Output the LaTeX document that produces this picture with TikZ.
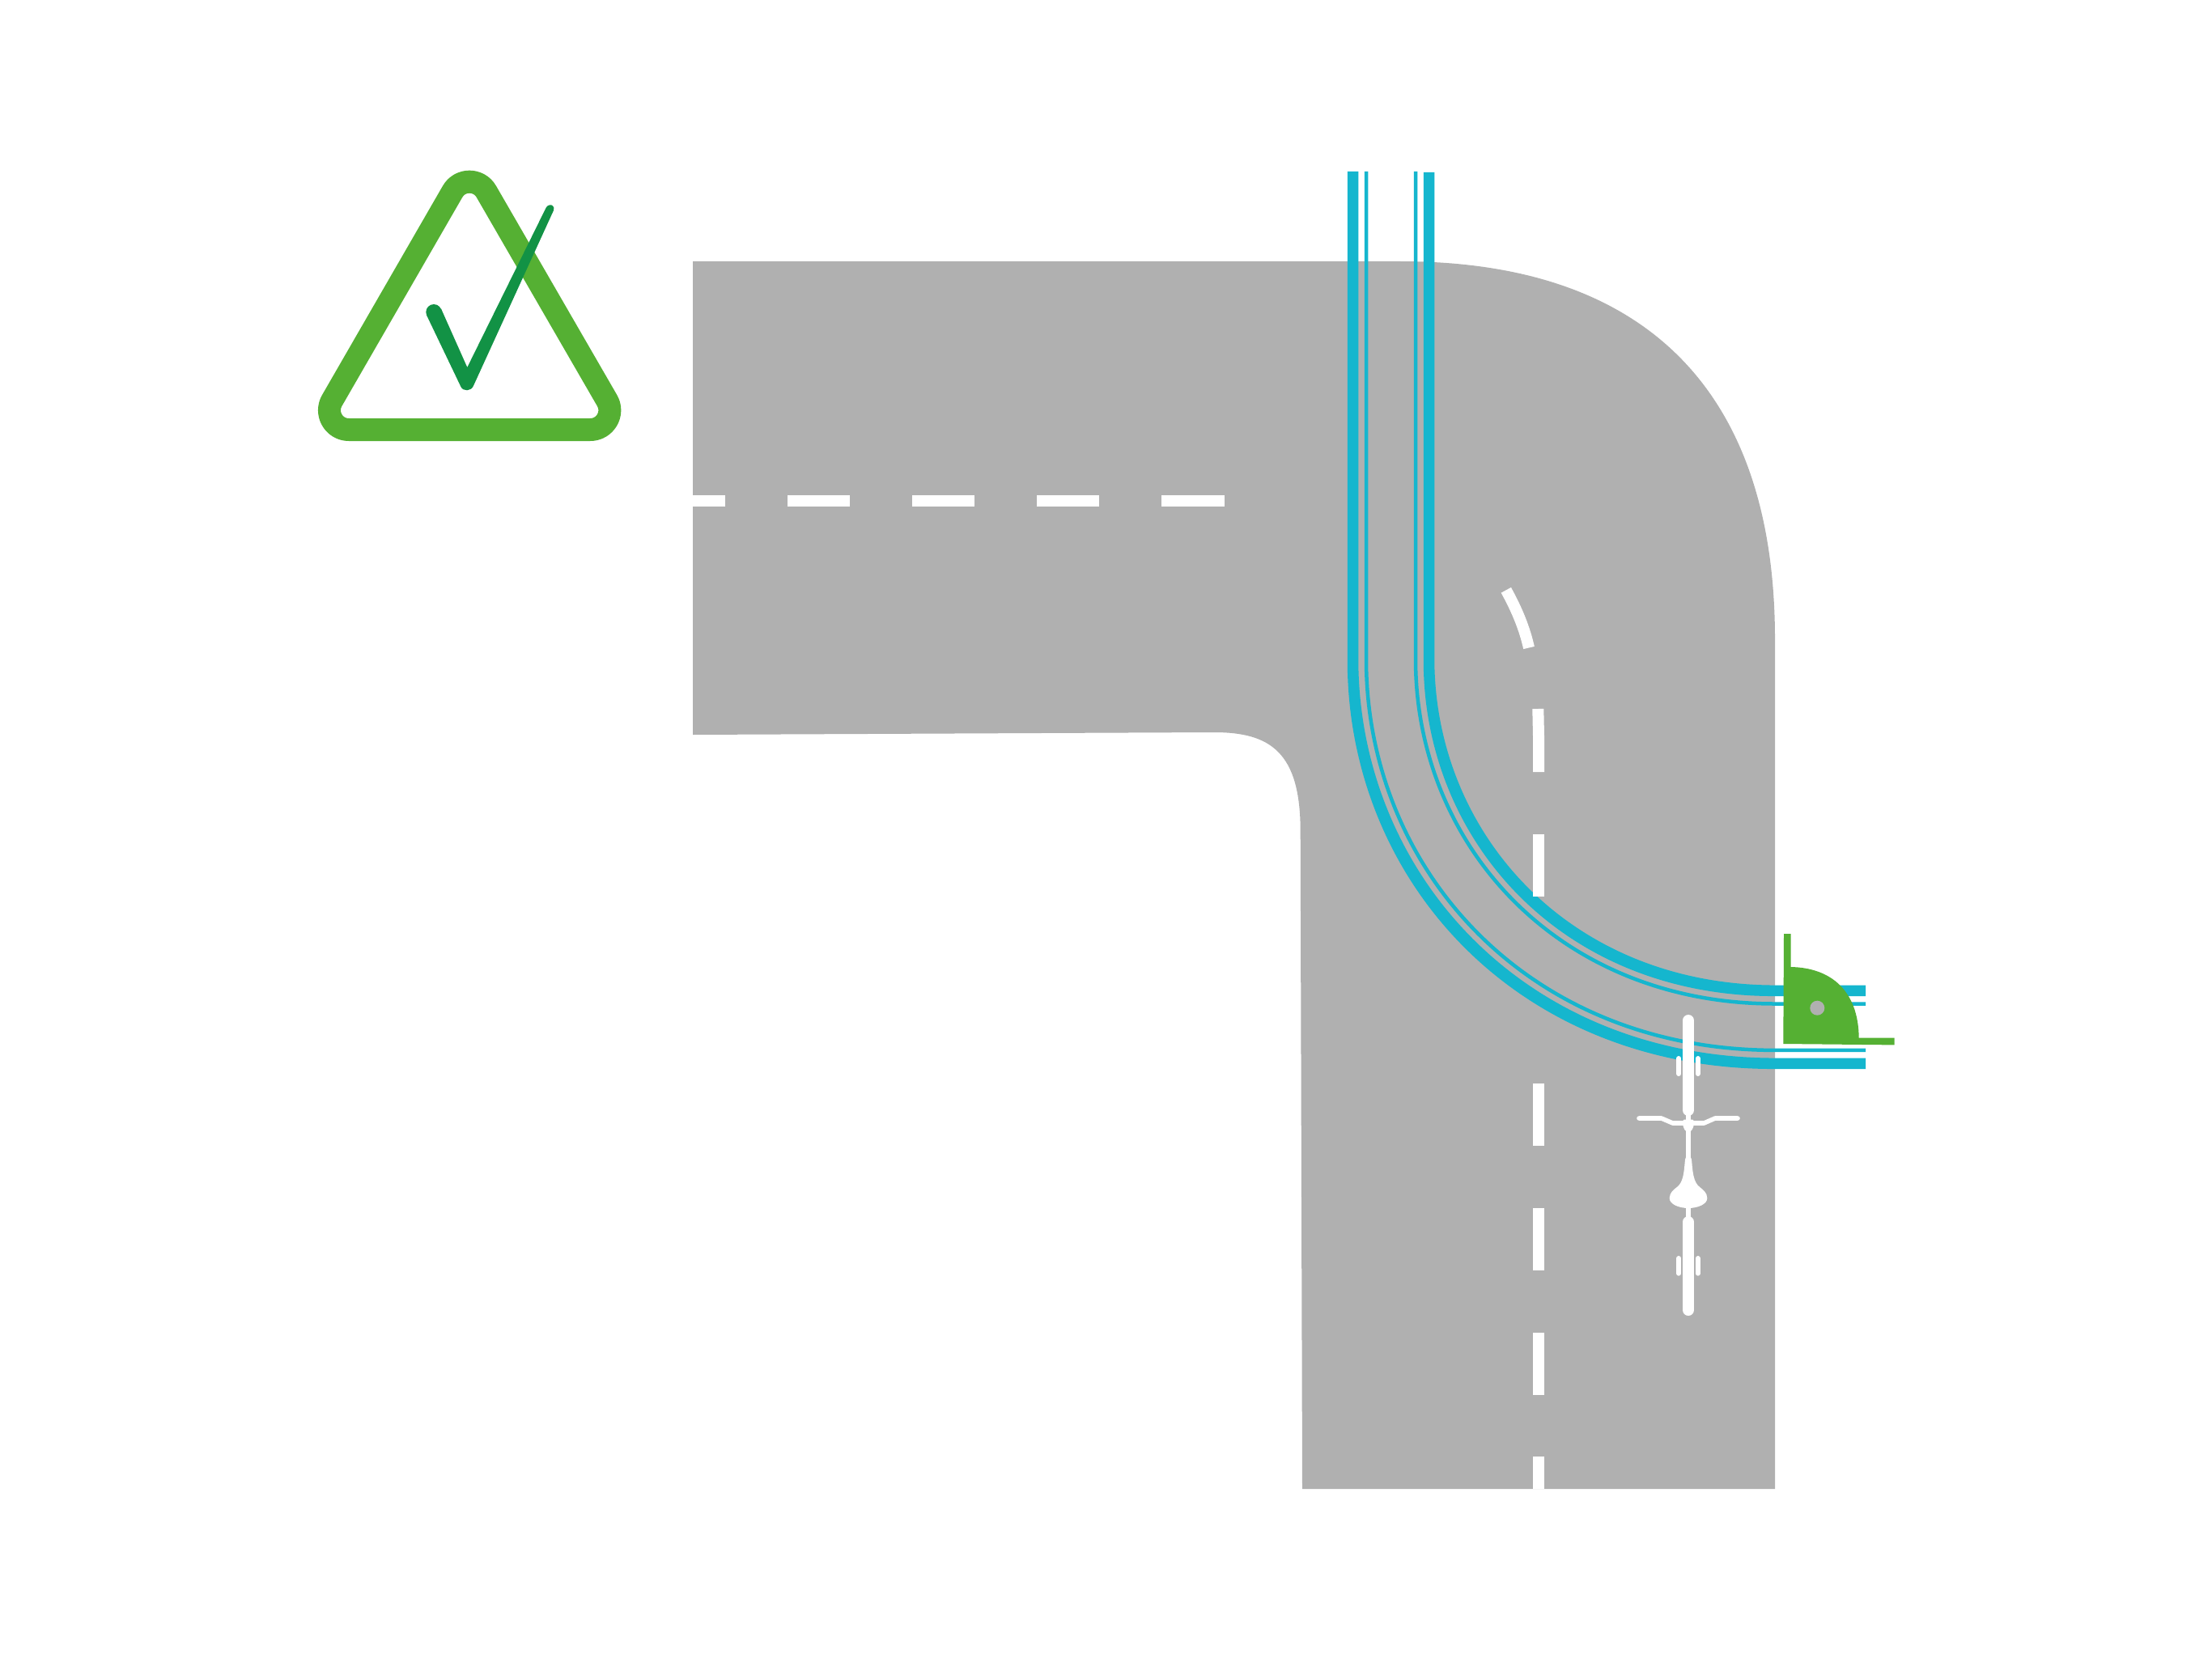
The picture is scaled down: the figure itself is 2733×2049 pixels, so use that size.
\documentclass[tikz,border=0pt]{standalone}
\usepackage{tikz}
\definecolor{roadgrey}{HTML}{B0B0B0}
\definecolor{laneblue}{HTML}{15B6CE}
\definecolor{signgreen}{HTML}{55B033}
\definecolor{tickgreen}{HTML}{129245}
\tikzset{
  roadfill/.style={fill=roadgrey,draw=none},
  dashline/.style={draw=white,line width=14pt,line cap=butt},
  thicklane/.style={fill=laneblue,draw=none},
  thinlane/.style={draw=laneblue,line width=4.5pt,line cap=butt},
  bikewheel/.style={draw=white,line width=14pt,line cap=round},
  bikebar/.style={draw=white,line width=6pt,line cap=round},
  bikethin/.style={draw=white,line width=5.4pt,line cap=butt},
  bikehandle/.style={draw=white,line width=5.6pt,line cap=round,line join=round},
}
\begin{document}
\begin{tikzpicture}[x=1pt,y=-1pt]
\useasboundingbox (0,0) rectangle (2733,2049);
\fill[white] (0,0) rectangle (2733,2049);
% road
\path[roadfill] (856,323) -- (1730,323)
  .. controls (2040,323) and (2193,490) .. (2193,790)
  -- (2193,1840) -- (1609,1840) -- (1606.7,1027)
  .. controls (1606.7,930) and (1570,905) .. (1500,905)
  -- (856,908) -- cycle;
% lanes
\path[thicklane] (1664.75,212) -- (1664.75,815)
  .. controls (1664.2,1087.9) and (1873.8,1321.6) .. (2193,1321.05)
  -- (2305,1321.05) -- (2305,1307.55) -- (2193,1307.55)
  .. controls (1882.8,1307) and (1678.8,1078.9) .. (1678.25,815)
  -- (1678.25,212) -- cycle;
\draw[thinlane] (1688,212) -- (1688,815) .. controls (1688,1074.6) and (1888.2,1297.9) .. (2193,1297.9) -- (2305,1297.9);
\draw[thinlane] (1749,212) -- (1749,815) .. controls (1749,1043.7) and (1925,1240.5) .. (2193,1240.5) -- (2305,1240.5);
\path[thicklane] (1758.75,213) -- (1758.75,815)
  .. controls (1758.2,1039.5) and (1930.5,1231.6) .. (2193,1231.05)
  -- (2305,1231.05) -- (2305,1217.55) -- (2193,1217.55)
  .. controls (1939.5,1217) and (1772.8,1030.5) .. (1772.25,815)
  -- (1772.25,213) -- cycle;
% horizontal centre dashes
\draw[dashline] (856,619) -- (896,619);
\draw[dashline] (973,619) -- (1050,619);
\draw[dashline] (1127,619) -- (1204,619);
\draw[dashline] (1281,619) -- (1358,619);
\draw[dashline] (1435,619) -- (1513,619);
% vertical centre dashes
\draw[dashline] (1860.8,729.3) .. controls (1875,755) and (1884,778) .. (1889,800.5);
\draw[dashline] (1900.3,876) -- (1901,910) -- (1901,954);
\draw[dashline] (1901,1031) -- (1901,1108);
\draw[dashline] (1901,1339) -- (1901,1416);
\draw[dashline] (1901,1493) -- (1901,1570);
\draw[dashline] (1901,1647) -- (1901,1724);
\draw[dashline] (1901,1800) -- (1901,1840);
% bicycle
\draw[bikewheel] (2086,1261) -- (2086,1372);
\draw[bikewheel] (2086,1510) -- (2086,1619);
\draw[bikebar] (2074.2,1308) -- (2074.2,1327);
\draw[bikebar] (2097.8,1308) -- (2097.8,1327);
\draw[bikebar] (2074.2,1555) -- (2074.2,1573.7);
\draw[bikebar] (2097.8,1555) -- (2097.8,1573.7);
\draw[bikethin] (2086,1375) -- (2086,1431);
\draw[bikethin] (2086,1490) -- (2086,1506);
\draw[bikehandle] (2025,1382) -- (2052.7,1382) -- (2066.7,1388) -- (2105.3,1388) -- (2119,1382) -- (2147,1382);
\fill[white] (2081,1383.5) -- (2091,1383.5) .. controls (2093,1383.5) and (2093,1386) .. (2093,1388)
  .. controls (2092.5,1394) and (2090,1399) .. (2086,1399)
  .. controls (2082,1399) and (2079.5,1394) .. (2079,1388)
  .. controls (2079,1386) and (2079,1383.5) .. (2081,1383.5) -- cycle;
\fill[white] (2086,1429) .. controls (2089,1429) and (2090,1431) .. (2090.3,1436)
  .. controls (2091.5,1450) and (2092.5,1461) .. (2100,1467)
  .. controls (2104,1470) and (2109.3,1474) .. (2109.3,1480.7)
  .. controls (2109.3,1488) and (2098,1493) .. (2086,1493)
  .. controls (2074,1493) and (2062.7,1488) .. (2062.7,1480.7)
  .. controls (2062.7,1474) and (2068,1470) .. (2072,1467)
  .. controls (2079.5,1461) and (2080.5,1450) .. (2081.7,1436)
  .. controls (2082,1431) and (2083,1429) .. (2086,1429) -- cycle;
% green bracket
\fill[signgreen] (2204,1154) -- (2212.7,1154) -- (2212.7,1195)
  .. controls (2262,1196) and (2296,1224) .. (2296.7,1282.5)
  -- (2340.7,1282.5) -- (2340.7,1291.4) -- (2203.3,1290) -- cycle;
\fill[roadgrey] (2245.3,1245.7) ellipse [x radius=9, y radius=9];
% warning triangle
\draw[signgreen,line width=28pt,line join=round]
  (559.2,236.7) .. controls (568.44,220.7) and (591.56,220.7) .. (600.8,236.7)
  -- (750.1,495) .. controls (759.34,511) and (747.78,531) .. (729.3,531)
  -- (431,531) .. controls (412.52,531) and (400.96,511) .. (410.2,495) -- cycle;
% tick
\fill[tickgreen] (527.3,390) -- (569.3,477.7)
  .. controls (572,484) and (582,484) .. (585,476.7)
  -- (684,260) .. controls (686,255) and (681,252.5) .. (679.3,253.3)
  .. controls (677,253.5) and (676,255) .. (675,256)
  -- (577.3,454) -- (545,381.5) -- cycle;
\fill[tickgreen] (536,385.7) circle [radius=9.7];
\end{tikzpicture}
\end{document}
